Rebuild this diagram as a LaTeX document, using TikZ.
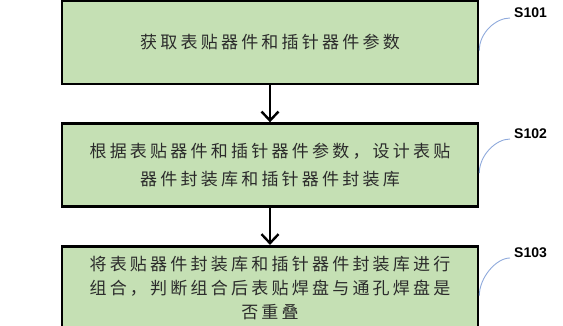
\documentclass[tikz,border=0pt]{standalone}
\usepackage{fontspec}
\newfontfamily\cjk[LetterSpace=19]{Noto Sans CJK SC}
\setsansfont{Liberation Sans}
\usetikzlibrary{arrows.meta,positioning}

\definecolor{boxgreen}{HTML}{C5E0B4}
\definecolor{leadblue}{HTML}{8FAADC}
\definecolor{inkgray}{HTML}{2B2B2B}

\begin{document}
\begin{tikzpicture}[
    x=1pt, y=1pt,
    node distance=37pt,
    stepbox/.style={draw=black, line width=2.6pt, fill=boxgreen, align=center, minimum width=416pt, minimum height=83pt, inner sep=0pt, text=inkgray, font=\cjk\fontsize{17}{24}\selectfont},
    tag/.style={font=\sffamily\bfseries\fontsize{14}{14}\selectfont, anchor=west, inner sep=4pt},
    flow/.style={-{Straight Barb[length=9pt,width=17pt,line width=2.4pt]}, line width=2.6pt},
    lead/.style={draw=leadblue, line width=0.9pt}
]
\useasboundingbox (0,0) rectangle (563,325);

% Steps
\node[stepbox] (s1) at (270,282.5) {获取表贴器件和插针器件参数};
\node[stepbox, below=of s1, font=\cjk\fontsize{17}{28}\selectfont] (s2) {根据表贴器件和插针器件参数，设计表贴\\器件封装库和插针器件封装库};
\node[stepbox, below=of s2] (s3) {将表贴器件封装库和插针器件封装库进行\\组合，判断组合后表贴焊盘与通孔焊盘是\\否重叠};

% Step tags
\node[tag] (t1) at (510,312) {S101};
\node[tag] (t2) at (510,191) {S102};
\node[tag] (t3) at (510,72) {S103};

% Flows
\draw[flow] (s1) -- (s2);
\draw[flow] (s2) -- (s3);

% Leads to tags
\draw[lead] ([yshift=-8pt]s1.east) .. controls +(0,18) and +(-14,0) .. ([yshift=-5pt]t1.west);
\draw[lead] ([yshift=-8pt]s2.east) .. controls +(0,18) and +(-14,0) .. ([yshift=-5pt]t2.west);
\draw[lead] ([yshift=-8pt]s3.east) .. controls +(0,18) and +(-14,0) .. ([yshift=-5pt]t3.west);

\end{tikzpicture}
\end{document}
